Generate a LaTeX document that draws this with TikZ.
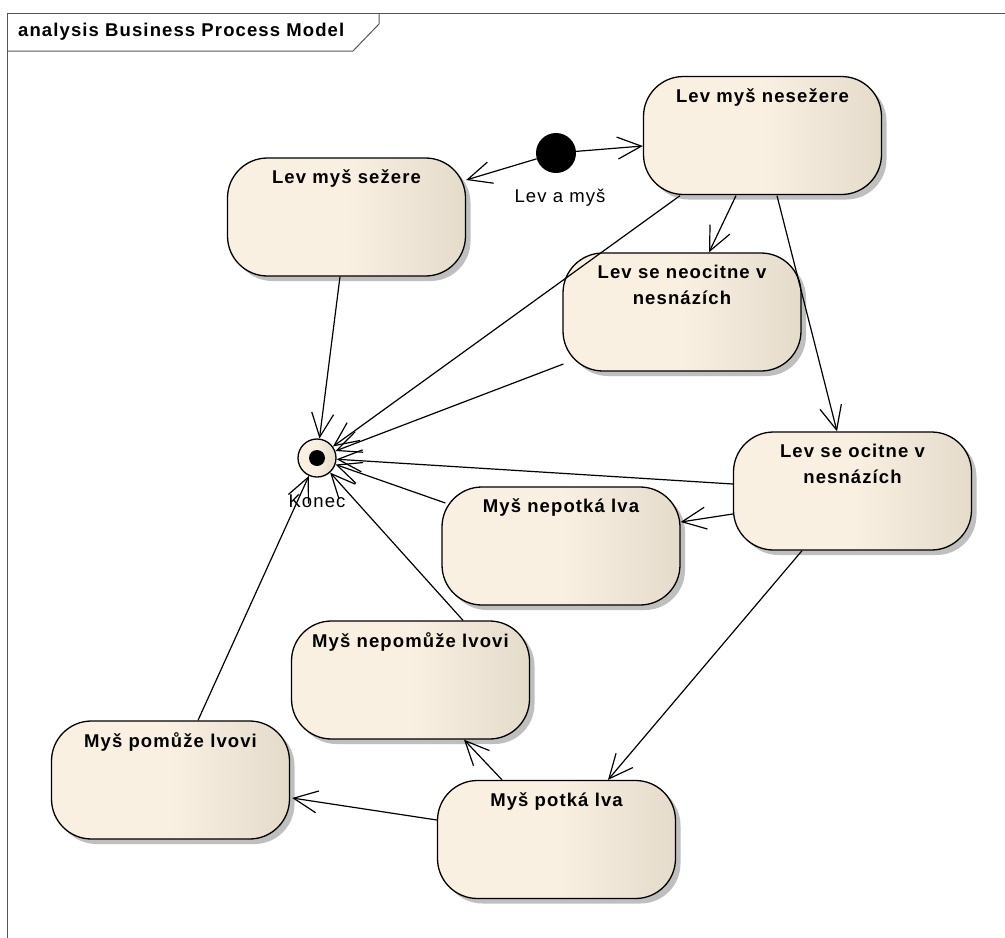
\documentclass[tikz,border=0pt]{standalone}
\usepackage{fontspec}
\setmainfont{Liberation Sans}
\newfontfamily\boxfont[LetterSpace=6]{Liberation Sans}
\usetikzlibrary{arrows.meta,calc,shadows}
\definecolor{boxL}{HTML}{FAF0E2}
\definecolor{boxR}{HTML}{E4DBCB}
\definecolor{frameC}{HTML}{555555}
\begin{document}
\begin{tikzpicture}[x=1pt,y=-1pt,
  state/.style={draw=black, line width=1.3pt, rounded corners=40pt,
    minimum width=238pt, minimum height=118pt, inner sep=0pt,
    left color=boxL, right color=boxR, middle color=boxL,
    drop shadow={shadow xshift=5pt,shadow yshift=-5pt,fill=black!25,opacity=1}},
  stext/.style={anchor=north, font=\boxfont\fontsize{18.5}{26}\selectfont\bfseries,
    align=center, inner sep=0pt},
  ltext/.style={font=\boxfont\fontsize{18.5}{22}\selectfont, inner sep=0pt},
  flow/.style={line width=1.2pt,
    -{Straight Barb[length=24pt,width=22pt,line width=1.2pt]}}]
\useasboundingbox (0,0) rectangle (1005,938);
\fill[white] (0,0) rectangle (1005,938);
% frame
\draw[frameC, line width=1pt] (7,938) -- (7,13) -- (1005,13);
\draw[frameC, line width=1pt] (7,51) -- (353,51) -- (379,24) -- (379,13);
\node[anchor=west, inner sep=0pt, font=\boxfont\fontsize{18.5}{22}\selectfont\bfseries] (title) at (18,32) {analysis Business Process Model};
% states
\node[state] (sezere)   at (346.5,217) {};
\node[state] (nesezere) at (762.5,135.5) {};
\node[state] (neocitne) at (682,312) {};
\node[state] (ocitne)   at (852.5,491) {};
\node[state] (nepotka)  at (561,546) {};
\node[state] (nepomuze) at (410.5,680) {};
\node[state] (pomuze)   at (170.5,780) {};
\node[state] (potka)    at (556.5,839.5) {};
\node[stext] (sezereT)   at ($(sezere.north)+(0,12.5)$)   {Lev myš sežere};
\node[stext] (nesezereT) at ($(nesezere.north)+(0,12.5)$) {Lev myš nesežere};
\node[stext] (neocitneT) at ($(neocitne.north)+(0,12.5)$) {Lev se neocitne v\\nesnázích};
\node[stext] (ocitneT)   at ($(ocitne.north)+(0,12.5)$)   {Lev se ocitne v\\nesnázích};
\node[stext] (nepotkaT)  at ($(nepotka.north)+(0,12.5)$)  {Myš nepotká lva};
\node[stext] (nepomuzeT) at ($(nepomuze.north)+(0,12.5)$) {Myš nepomůže lvovi};
\node[stext] (pomuzeT)   at ($(pomuze.north)+(0,12.5)$)   {Myš pomůže lvovi};
\node[stext] (potkaT)    at ($(potka.north)+(0,12.5)$)    {Myš potká lva};
% initial and final
\node[circle, fill=black, minimum size=40pt, inner sep=0pt] (init) at (556,153) {};
\node[ltext] (initL) at (560,198) {Lev a myš};
\node[ltext] (finalL) at (317,501) {Konec};
\node[circle, draw=black, line width=1.3pt, left color=boxL, right color=boxR, middle color=boxL,
  minimum size=38pt, inner sep=0pt] (final) at (317,458) {};
\node[circle, fill=black, minimum size=16pt, inner sep=0pt] (finaldot) at (final) {};
% transitions
\draw[flow] (init) -- ($(sezere.east)+(0,-37)$);
\draw[flow] (init) -- ($(nesezere.west)+(0,10.5)$);
\draw[flow] ($(sezere.south)+(-6.5,0)$) -- (final);
\draw[flow] ($(nesezere.south)+(-82.5,0.5)$) -- (final);
\draw[flow] ($(nesezere.south)+(-26.5,0.5)$) -- ($(neocitne.north)+(27,0)$);
\draw[flow] ($(nesezere.south)+(14.5,0.5)$) -- ($(ocitne.north)+(-15.5,0)$);
\draw[flow] ($(neocitne.west)+(1,52)$) -- (final);
\draw[flow] ($(ocitne.west)+(0,-7)$) -- (final);
\draw[flow] ($(ocitne.west)+(0,23)$) -- ($(nepotka.east)+(0,-24)$);
\draw[flow] ($(ocitne.south)+(-50.5,0)$) -- ($(potka.north)+(51.5,0)$);
\draw[flow] ($(nepotka.west)+(4,-43)$) -- (final);
\draw[flow] ($(potka.north)+(-54.5,0)$) -- ($(nepomuze.south)+(53.5,0)$);
\draw[flow] ($(potka.west)+(0,-19.5)$) -- ($(pomuze.east)+(2,18)$);
\draw[flow] ($(nepomuze.north)+(52.5,0)$) -- (final);
\draw[flow] ($(pomuze.north)+(27.5,0)$) -- (final);
\end{tikzpicture}
\end{document}
